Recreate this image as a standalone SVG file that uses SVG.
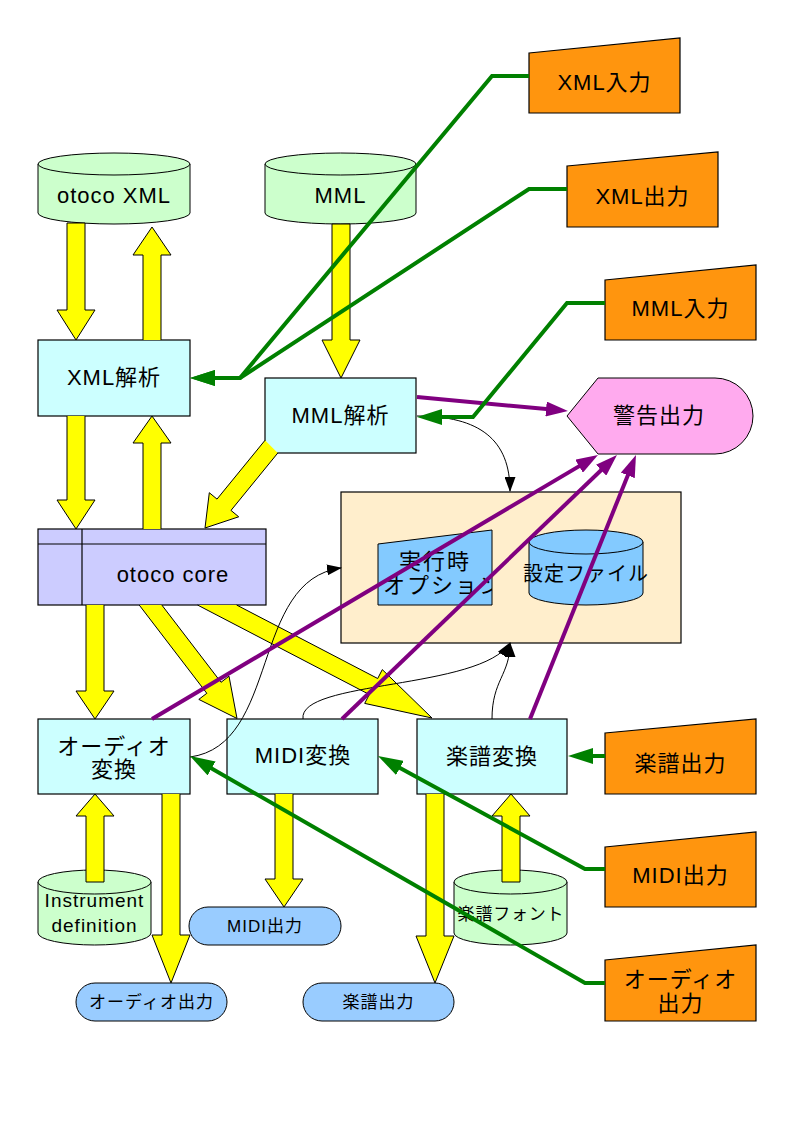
<svg xmlns="http://www.w3.org/2000/svg" width="794" height="1123" viewBox="0 0 794 1123">
<style>
.t{font-family:"Liberation Sans","Noto Sans CJK JP",sans-serif;font-size:22px;letter-spacing:1px;text-anchor:middle;fill:#000}
.s{font-size:17px;letter-spacing:1px}
.m{font-size:19px;letter-spacing:1px}
.box{fill:#ccffff;stroke:#000;stroke-width:1.2}
.cyl{fill:#ccffcc;stroke:#000;stroke-width:1}
.man{fill:#ff950e;stroke:#000;stroke-width:1.2}
.pill{fill:#99ccff;stroke:#000;stroke-width:1}
.blue{fill:#83caff;stroke:#000;stroke-width:1}
.ya{fill:#ffff00;stroke:#000;stroke-width:1;stroke-linejoin:miter}
.pu{fill:none;stroke:#800080;stroke-width:4;marker-end:url(#mp)}
.gr{fill:none;stroke:#008000;stroke-width:4;marker-end:url(#mg)}
.th{fill:none;stroke:#000;stroke-width:1;marker-end:url(#mb)}
</style>
<defs>
<marker id="mp" markerUnits="userSpaceOnUse" markerWidth="22" markerHeight="15" refX="14" refY="7.5" orient="auto"><path d="M0,0 L22,7.5 L0,15 z" fill="#800080"/></marker>
<marker id="mg" markerUnits="userSpaceOnUse" markerWidth="25" markerHeight="16" refX="17" refY="8" orient="auto"><path d="M0,0 L25,8 L0,16 z" fill="#008000"/></marker>
<marker id="mb" markerUnits="userSpaceOnUse" markerWidth="15" markerHeight="11" refX="14" refY="5.5" orient="auto"><path d="M0,0 L15,5.5 L0,11 z" fill="#000"/></marker>
<clipPath id="clipopt"><polygon points="378,544 492,530 492,605 378,605"/></clipPath>
</defs>
<rect width="794" height="1123" fill="#fff"/>

<g id="otoco-xml">
<path class="cyl" d="M38,164 L38,213 A76,11 0 0 0 190,213 L190,164 Z"/>
<ellipse class="cyl" cx="114" cy="164" rx="76" ry="11"/>
<text class="t" x="114" y="203">otoco XML</text>
</g>
<g id="mml">
<path class="cyl" d="M265,164 L265,213 A75.5,11 0 0 0 416,213 L416,164 Z"/>
<ellipse class="cyl" cx="340.5" cy="164" rx="75.5" ry="11"/>
<text class="t" x="340.5" y="203">MML</text>
</g>
<g id="xml-input">
<polygon class="man" points="529,53 680,38 680,113 529,113"/>
<text class="t" x="604.5" y="90">XML入力</text>
</g>
<g id="xml-output">
<polygon class="man" points="567,166 718,152 718,227 567,227"/>
<text class="t" x="642.5" y="204">XML出力</text>
</g>
<g id="mml-input">
<polygon class="man" points="605,280 756,265 756,340 605,340"/>
<text class="t" x="680.5" y="316">MML入力</text>
</g>
<g id="xml-parse">
<rect class="box" x="38" y="340" width="152" height="76"/>
<text class="t" x="114" y="385">XML解析</text>
</g>
<g id="mml-parse">
<rect class="box" x="265" y="378" width="151" height="75"/>
<text class="t" x="340.5" y="423">MML解析</text>
</g>
<g id="warning">
<path d="M567,416 L598,378 L715,378 A38,38 0 0 1 715,454 L598,454 Z" fill="#ffaaee" stroke="#000" stroke-width="1"/>
<text class="t" x="659" y="423">警告出力</text>
</g>
<g id="core">
<rect x="38" y="529" width="228" height="76" fill="#ccccff" stroke="#000" stroke-width="1.2"/>
<line x1="82" y1="529" x2="82" y2="605" stroke="#000" stroke-width="1.2"/>
<line x1="38" y1="544" x2="266" y2="544" stroke="#000" stroke-width="1.2"/>
<text class="t" x="173" y="582">otoco core</text>
</g>
<g id="settings">
<rect x="341" y="492" width="340" height="151" fill="#ffeecc" stroke="#000" stroke-width="1.2"/>
<g id="runtime-options">
<polygon class="blue" points="378,544 492,530 492,605 378,605"/>
<g clip-path="url(#clipopt)">
<text class="t" x="435" y="569" style="letter-spacing:2px">実行時</text>
<text class="t" x="383" y="593" style="text-anchor:start;letter-spacing:2px">オプション</text>
</g>
</g>
<g id="config-file">
<path class="blue" d="M529,542 L529,593 A57,12 0 0 0 643,593 L643,542 Z"/>
<ellipse class="blue" cx="586" cy="542" rx="57" ry="12"/>
<text class="t" x="586" y="581" style="font-size:20px;letter-spacing:1px">設定ファイル</text>
</g>
</g>
<g id="audio-conv">
<rect class="box" x="38" y="719" width="152" height="75"/>
<text class="t" x="114" y="754">オーディオ</text>
<text class="t" x="114" y="777">変換</text>
</g>
<g id="midi-conv">
<rect class="box" x="227" y="719" width="151" height="75"/>
<text class="t" x="303" y="763">MIDI変換</text>
</g>
<g id="score-conv">
<rect class="box" x="417" y="719" width="150" height="75"/>
<text class="t" x="492" y="764">楽譜変換</text>
</g>
<g id="score-output-in">
<polygon class="man" points="605,733 756,719 756,794 605,794"/>
<text class="t" x="680.5" y="771">楽譜出力</text>
</g>
<g id="midi-output-in">
<polygon class="man" points="605,847 756,832 756,907 605,907"/>
<text class="t" x="680.5" y="883">MIDI出力</text>
</g>
<g id="audio-output-in">
<polygon class="man" points="605,960 756,945 756,1021 605,1021"/>
<text class="t" x="680.5" y="987">オーディオ</text>
<text class="t" x="680.5" y="1011">出力</text>
</g>
<g id="instrument">
<path class="cyl" d="M38,882 L38,933 A56.5,12 0 0 0 151,933 L151,882 Z"/>
<ellipse class="cyl" cx="94.5" cy="882" rx="56.5" ry="12"/>
<text class="t m" x="94.5" y="907">Instrument</text>
<text class="t m" x="94.5" y="932">definition</text>
</g>
<g id="score-font">
<path class="cyl" d="M454,882 L454,933 A56.5,12 0 0 0 567,933 L567,882 Z"/>
<ellipse class="cyl" cx="510.5" cy="882" rx="56.5" ry="12"/>
<text class="t s" x="511" y="920" style="letter-spacing:0.8px">楽譜フォント</text>
</g>
<g id="midi-file">
<rect class="pill" x="189" y="907" width="152" height="38" rx="19" ry="19"/>
<text class="t s" x="265" y="932">MIDI出力</text>
</g>
<g id="audio-file">
<rect class="pill" x="76" y="983" width="151" height="38" rx="19" ry="19"/>
<text class="t s" x="151.5" y="1008">オーディオ出力</text>
</g>
<g id="score-file">
<rect class="pill" x="303" y="983" width="151" height="38" rx="19" ry="19"/>
<text class="t s" x="378.5" y="1008">楽譜出力</text>
</g>

<g id="connectors">
<g id="dataflow">
<path class="ya" d="M67,223 L67,310 L57,310 L76,340 L95,310 L85,310 L85,223 Z"/>
<path class="ya" d="M143,340 L143,255 L133,255 L152,227 L171,255 L161,255 L161,340"/>
<path class="ya" d="M332,224 L332,340 L322,340 L341,378 L360,340 L350,340 L350,224 Z"/>
<path class="ya" d="M67,416 L67,500 L57,500 L76,529 L95,500 L85,500 L85,416"/>
<path class="ya" d="M143,529 L143,443 L133,443 L152,416 L171,443 L161,443 L161,529"/>
<path class="ya" d="M265,440.3 L217,499.1 L209.3,492.7 L205,528 L238.7,516.8 L231,510.4 L277.8,453"/>
<path class="ya" d="M86,605 L86,691 L76,691 L95,719 L114,691 L104,691 L104,605"/>
<path class="ya" d="M161.8,605 L221,682.3 L229,676.2 L237,718.5 L198.8,699.4 L206.8,693.3 L139.2,605"/>
<path class="ya" d="M236.6,605 L377.7,678.5 L382.3,669.6 L432,718 L364.7,703.4 L369.3,694.5 L197.5,605"/>
<path class="ya" d="M275,794 L275,879 L265,879 L284,907 L303,879 L293,879 L293,794"/>
<path class="ya" d="M162,794 L162,935 L152,935 L171,983 L190,935 L180,935 L180,794"/>
<path class="ya" d="M86,882 L86,816 L76,816 L95,794 L114,816 L104,816 L104,882 Z"/>
<path class="ya" d="M426,794 L426,936 L416,936 L435,983 L454,936 L444,936 L444,794"/>
<path class="ya" d="M502,882 L502,816 L492,816 L511,794 L530,816 L520,816 L520,882 Z"/>
</g>
<g id="settings-links">
<path class="th" d="M417,416 C480,416 510,440 510,491"/>
<path class="th" d="M190,757 C280,745 250,580 341,568"/>
<path class="th" d="M303,719 C298,680 480,690 510,643"/>
<path class="th" d="M492,719 C492,680 510,675 510,643"/>
</g>
<g id="warnings">
<path class="pu" d="M417,397 L560,410.3"/>
<path class="pu" d="M152,719 L591.1,459.1"/>
<path class="pu" d="M342,719 L611.2,460.5"/>
<path class="pu" d="M530,719 L633,462.4"/>
</g>
<g id="commands">
<path class="gr" d="M529,76 L492,76 L240,378 L198,378"/>
<path class="gr" d="M567,189 L529,189 L240,378 L198,378"/>
<path class="gr" d="M605,303 L567,303 L473,417 L425,417"/>
<path class="gr" d="M605,756 L576,756"/>
<path class="gr" d="M605,869 L585,869 L385,759.8"/>
<path class="gr" d="M605,983 L585,983 L196.9,760"/>
</g>
</g>
</svg>
